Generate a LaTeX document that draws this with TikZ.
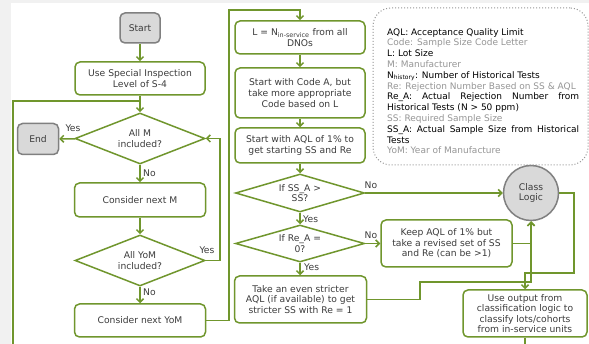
\documentclass[tikz,border=0pt]{standalone}
\usepackage{fontspec}
\setmainfont{DejaVu Sans}
\usetikzlibrary{shapes.geometric,arrows.meta,calc}
\definecolor{flowgreen}{RGB}{112,150,45}
\definecolor{boxgray}{RGB}{217,217,217}
\definecolor{edgegray}{RGB}{128,128,128}
\definecolor{txtgray}{RGB}{60,60,60}
\definecolor{keygray}{RGB}{150,150,150}
\definecolor{bggray}{RGB}{241,241,241}
\begin{document}
\begin{tikzpicture}[x=1pt,y=-1pt,
	font=\fontsize{9.2}{10.6}\selectfont, text=txtgray,
	box/.style={draw=flowgreen, line width=1.5pt, rounded corners=5pt, fill=white, align=center, inner sep=1pt},
	term/.style={draw=edgegray, line width=1.5pt, rounded corners=5pt, fill=boxgray, minimum width=40pt, minimum height=30pt},
	test/.style={draw=flowgreen, line width=1.5pt, diamond, aspect=2.5, inner sep=0pt, fill=white, align=center},
	arr/.style={draw=flowgreen, line width=1.5pt, -{Straight Barb[length=3.5pt,width=7pt]}},
	wire/.style={draw=flowgreen, line width=1.5pt},
	lbl/.style={inner sep=1pt}]
\fill[bggray] (0,0) rectangle (589,344);
\fill[white] (11,3) rectangle (589,344);
\useasboundingbox (0,0) rectangle (589,344);

% left column
\node[term] (start) at (140,28) {Start};
\node[box, minimum width=130pt, minimum height=33pt] (spec) at (140,78.5) {Use Special Inspection\\Level of S-4};
\node[test, minimum width=130pt, minimum height=51pt] (allm) at (140,138.5) {All M\\included?};
\node[term, minimum width=41pt, minimum height=31pt] (end) at (38,139) {End};
\node[box, minimum width=131pt, minimum height=34pt] (nextm) at (140,200) {Consider next M};
\node[test, minimum width=130pt, minimum height=51pt] (allyom) at (140,260.5) {All YoM\\included?};
\node[box, minimum width=131pt, minimum height=33pt] (nextyom) at (140,320.5) {Consider next YoM};

% middle column
\node[box, minimum width=130pt, minimum height=33pt] (lbox) at (300,37.5) {L = N\textsubscript{in-service} from all\\DNOs};
\node[box, minimum width=130pt, minimum height=50pt] (codea) at (300,93) {Start with Code A, but\\take more appropriate\\Code based on L};
\node[box, minimum width=130pt, minimum height=35pt] (aqlstart) at (300,145.5) {Start with AQL of 1\% to\\get starting SS and Re};
\node[test, minimum width=129pt, minimum height=38pt] (ssa) at (300,193) {If SS\_A >\\SS?};
\node[test, minimum width=129pt, minimum height=37pt] (rea) at (300,243.5) {If Re\_A =\\0?};
\node[box, minimum width=132pt, minimum height=47pt] (stricter) at (300.5,299.5) {Take an even stricter\\AQL (if available) to get\\stricter SS with Re = 1};

% right column
\node[box, minimum width=131pt, minimum height=47pt] (keep) at (446.5,243.5) {Keep AQL of 1\% but\\take a revised set of SS\\and Re (can be >1)};
\node[circle, draw=edgegray, fill=boxgray, line width=1.5pt, minimum size=55pt, inner sep=0pt, align=center] (cls) at (531,193) {Class\\Logic};
\node[box, minimum width=124pt, minimum height=47pt] (useout) at (525,313.5) {Use output from\\classification logic to\\classify lots/cohorts\\from in-service units};

% legend
\node[draw=keygray, dotted, line width=1pt, rounded corners=18pt, minimum width=215pt, minimum height=157pt] (keybox) at (480.5,86.5) {};
\node[anchor=north west, text width=192pt, align=justify, inner sep=0pt, text=black,
	font=\fontsize{9}{10.8}\selectfont] (keytext) at (387,28) {%
AQL: Acceptance Quality Limit\par
{\color{keygray}Code: Sample Size Code Letter\par}
L: Lot Size\par
{\color{keygray}M: Manufacturer\par}
N\textsubscript{history}: Number of Historical Tests\par
{\color{keygray}Re: Rejection Number Based on SS \& AQL\par}
Re\_A: Actual Rejection Number from\linebreak Historical Tests (N > 50 ppm)\par
{\color{keygray}SS: Required Sample Size\par}
SS\_A: Actual Sample Size from Historical\linebreak Tests\par
{\color{keygray}YoM: Year of Manufacture\par}};

% connectors
\coordinate (mjoin) at (140,101);
\coordinate (lin) at (13,344);
\coordinate (ltop) at (229,10);
\coordinate (sjoin) at (420,282);
\coordinate (cright) at (574,273);
\coordinate (uout) at (useout.south |- 0,344);

\draw[arr] (start) -- (spec);
\draw[arr] (spec) -- (allm);
\draw[wire] (lin) |- (mjoin);
\draw[arr] (allm) -- (end);
\node[lbl] (yes1) at (73,128) {Yes};
\draw[arr] (allm) -- (nextm);
\node[lbl, anchor=west] (no1) at (142,173) {No};
\draw[arr] (nextm) -- (allyom);
\draw[arr] (allyom.east) -- ++(14,0) |- (allm.east);
\node[lbl] (yes2) at (207,250) {Yes};
\draw[arr] (allyom) -- (nextyom);
\node[lbl, anchor=west] (no2) at (142,292) {No};
\draw[arr] (nextyom.east) -| (ltop) -| (lbox.north);

\draw[arr] (lbox) -- (codea);
\draw[arr] (codea) -- (aqlstart);
\draw[arr] (aqlstart) -- (ssa);
\draw[arr] (ssa) -- (rea);
\node[lbl, anchor=west] (yes3) at (302,219) {Yes};
\draw[arr] (rea) -- (stricter.north -| rea.south);
\node[lbl, anchor=west] (yes4) at (303,267) {Yes};
\draw[arr] (ssa) -- (cls);
\node[lbl] (no3) at (371,185) {No};
\draw[arr] (rea) -- (keep);
\node[lbl] (no4) at (371,235) {No};
\draw[arr] (keep.east) -| (cls.south);
\draw[arr] (stricter.east) -| (sjoin) -| (cls.south);
\draw[arr] (cls.east) -| (cright) -| (useout.north);
\draw[wire] (useout.south) -- (uout);
\end{tikzpicture}
\end{document}
